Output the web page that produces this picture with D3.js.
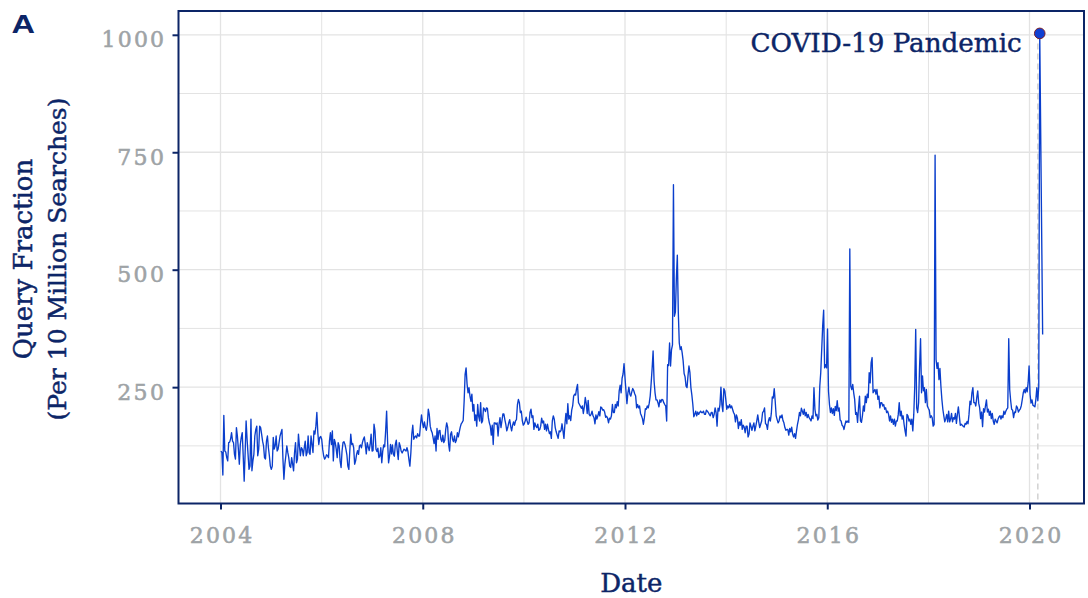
<!DOCTYPE html>
<html>
<head>
<meta charset="utf-8">
<script src="https://cdn.jsdelivr.net/npm/d3@7"></script>
<style>
  body { margin: 0; background: #ffffff; }
  svg text { font-family: "DejaVu Serif", serif; }
</style>
</head>
<body>
<svg id="chart" width="1088" height="598"></svg>
<script>
// Weekly query fraction (per 10 million searches), weeks starting 2004-01-04.
// null = week without a reported value.
const seriesStart = "2004-01-04";
const weeklyQueryFraction = [
  114,111,63,190,114,112,100,93,132,133,
  140,153,135,132,107,97,164,146,118,86,
  128,143,153,104,50,111,178,139,107,75,
  82,182,72,93,107,146,160,167,104,118,
  167,164,150,135,125,100,97,135,146,121,
  104,82,75,82,143,118,125,146,114,118,
  132,146,153,160,97,54,86,104,125,111,
  100,82,79,100,86,72,111,132,89,97,
  150,125,104,121,118,104,121,135,104,111,
  146,111,107,146,128,111,157,150,167,196,
  153,128,143,145,139,118,104,97,
  100,106,104,100,135,153,128,157,93,139,
  132,118,100,132,125,93,79,114,132,134,
  128,118,106,82,75,114,150,128,130,121,
  86,93,107,115,107,125,127,121,132,139,
  144,128,108,132,123,115,128,150,114,115,
  171,157,118,113,120,100,103,121,89,114,
  127,123,157,199,135,89,103,128,108,127,
  107,103,128,137,114,96,132,125,114,110,
  114,118,116,114,121,113,96,82,110,150,
  169,139,144,146,142,151,146,146,171,191,
  174,164,176,164,158,171,203,192,
  167,158,153,142,130,146,114,162,139,157,
  158,139,134,148,132,137,160,174,165,128,
  114,150,155,139,134,146,132,137,153,144,
  155,165,172,175,179,220,277,291,257,238,
  249,231,220,235,199,213,179,191,167,213,
  188,178,217,174,178,206,203,198,206,205,
  185,174,167,148,169,128,174,174,171,174,
  146,171,185,164,178,193,193,181,171,157,
  164,174,181,167,157,169,176,169,178,181,
  213,224,217,196,199,179,169,172,178,186,
  178,171,174,
  196,203,185,189,160,174,167,164,171,158,
  160,167,184,174,178,160,171,157,171,160,
  151,155,141,178,189,182,164,155,148,141,
  157,155,158,172,157,141,171,194,172,215,
  182,189,179,201,210,231,235,233,247,256,
  217,213,209,205,210,194,208,228,215,194,222,
  192,189,192,199,189,185,172,191,182,189,
  198,189,208,206,201,202,197,186,188,184,
  174,184,182,189,213,196,196,213,206,219,
  210,242,254,238,269,278,300,270,242,215,
  238,250,235,231,240,247,243,236,
  231,206,213,206,210,194,189,183,171,185,
  204,203,210,206,216,231,259,290,327,263,
  238,223,223,217,208,223,218,224,223,217,
  213,210,178,298,296,344,295,330,340,681,
  401,410,480,531,410,344,330,336,323,306,
  279,272,252,249,274,295,281,249,233,213,
  187,192,199,189,197,192,196,199,196,196,
  199,192,
  192,201,199,196,192,189,196,196,185,192,
  206,196,167,205,199,213,250,212,198,247,
  242,224,203,210,206,213,206,210,203,196,
  192,176,191,184,162,176,169,181,160,169,
  165,153,167,167,144,150,174,167,158,167,
  174,157,167,178,191,176,164,171,178,196,
  199,206,172,171,160,178,185,178,194,229,
  227,247,220,189,181,174,178,189,185,191,
  179,174,164,158,160,160,148,162,155,165,
  150,144,151,141,157,171,181,196,189,205,
  199,192,203,189,196,185,192,185,
  182,178,189,183,249,203,189,192,180,185,
  252,281,330,380,414,291,298,291,374,242,
  213,196,206,194,204,190,209,200,221,199,
  206,180,178,169,167,160,170,178,175,178,
  175,544,252,245,256,238,224,192,196,175,
  206,231,178,175,189,210,199,231,217,235,
  228,281,259,302,313,238,242,245,235,245,
  224,231,206,217,217,210,213,203,206,196,
  199,192,178,189,175,182,171,182,167,178,
  178,192,217,189,199,182,189,171,157,146,
  192,189,178,
  182,171,182,157,192,252,373,206,196,217,
  295,353,238,274,242,249,217,245,210,205,201,
  185,189,185,167,170,744,309,290,302,266,
  290,252,224,203,189,176,183,192,176,199,
  176,182,194,176,185,182,194,173,192,208,
  189,169,171,169,167,165,173,171,177,172,
  192,220,213,238,249,217,217,210,228,242,
  216,206,183,197,166,204,197,210,223,197,
  203,190,199,183,194,178,171,182,178,174,
  182,187,189,
  182,189,185,199,192,199,203,206,353,245,
  221,203,201,185,197,196,210,206,197,201,
  204,211,224,238,245,238,249,240,259,295,
  235,216,223,211,210,208,224,249,221,252,
  1003,null,null,362
];

const yTicks = [250, 500, 750, 1000];
const yMinorTicks = [125, 375, 625, 875];
const xTickYears = [2004, 2008, 2012, 2016, 2020];
const xMinorYears = [2006, 2010, 2014, 2018];

const panelTag = "A";
const xTitle = "Date";
const yTitleLines = ["Query Fraction", "(Per 10 Million Searches)"];
const annotationLabel = "COVID-19 Pandemic";
const annotationDate = "2020-03-01";

// ---- styling ----
const navy = "#0c2567";
const tickGrey = "#9ea3a6";
const gridGrey = "#e3e3e3";
const lineBlue = "#0a3ecc";

const panel = { left: 178.5, right: 1084, top: 11, bottom: 503.5 };

const svg = d3.select("#chart");

// ---- data ----
const parseDay = d3.utcParse("%Y-%m-%d");
const start = parseDay(seriesStart);
const series = weeklyQueryFraction
  .map((v, i) => ({ date: d3.utcDay.offset(start, 7 * i), value: v }))
  .filter(d => d.value !== null);

const yr = y => new Date(Date.UTC(y, 0, 1));

// ---- scales ----
const x = d3.scaleUtc()
  .domain([yr(2004), yr(2020)])
  .range([220.5, 1029.5]);

const [vMin, vMax] = d3.extent(series, d => d.value);
const pad = 0.05 * (vMax - vMin);
const y = d3.scaleLinear()
  .domain([vMin - pad, vMax + pad])
  .range([panel.bottom, panel.top]);

// ---- grid ----
const grid = svg.append("g");
const hLines = (vals, w) => grid.append("g").selectAll("line").data(vals).join("line")
  .attr("x1", panel.left).attr("x2", panel.right)
  .attr("y1", d => y(d)).attr("y2", d => y(d))
  .attr("stroke", gridGrey).attr("stroke-width", w);
const vLines = (vals, w) => grid.append("g").selectAll("line").data(vals).join("line")
  .attr("x1", d => x(yr(d))).attr("x2", d => x(yr(d)))
  .attr("y1", panel.top).attr("y2", panel.bottom)
  .attr("stroke", gridGrey).attr("stroke-width", w);
hLines(yMinorTicks, 1);
vLines(xMinorYears, 1);
hLines(yTicks, 1.3);
vLines(xTickYears, 1.3);

// ---- annotation marker line ----
const peak = series.reduce((a, b) => (b.value > a.value ? b : a));
const annX = x(parseDay(annotationDate));
svg.append("line")
  .attr("x1", annX).attr("x2", annX)
  .attr("y1", y(peak.value)).attr("y2", panel.bottom)
  .attr("stroke", "#d4d4d4").attr("stroke-width", 1.6)
  .attr("stroke-dasharray", "6,4");

// ---- series line ----
const line = d3.line()
  .x(d => x(d.date))
  .y(d => y(d.value));
svg.append("path")
  .datum(series)
  .attr("d", line)
  .attr("fill", "none")
  .attr("stroke", lineBlue)
  .attr("stroke-width", 1.35)
  .attr("stroke-linejoin", "round");

// ---- peak point + label ----
svg.append("circle")
  .attr("cx", x(peak.date)).attr("cy", y(peak.value))
  .attr("r", 5.3)
  .attr("fill", "#1040d2")
  .attr("stroke", "#7a1f2a").attr("stroke-width", 1);

const titleInk = sel => sel.attr("fill", navy)
  .attr("stroke", navy).attr("stroke-width", 0.45);

svg.append("text")
  .attr("x", x(peak.date) - 18).attr("y", y(peak.value) + 19)
  .attr("text-anchor", "end")
  .attr("font-size", 26.2)
  .call(titleInk)
  .text(annotationLabel);

// ---- axes ----
const yAxis = svg.append("g")
  .attr("transform", `translate(${panel.left},0)`)
  .call(d3.axisLeft(y).tickValues(yTicks).tickSize(6).tickPadding(8.5)
    .tickFormat(d3.format("d")));
const xAxis = svg.append("g")
  .attr("transform", `translate(0,${panel.bottom})`)
  .call(d3.axisBottom(x).tickValues(xTickYears.map(yr)).tickSize(6)
    .tickFormat(d3.utcFormat("%Y")));

[yAxis, xAxis].forEach(ax => {
  ax.select(".domain").remove();
  ax.selectAll(".tick line").attr("stroke", navy).attr("stroke-width", 2);
  ax.selectAll(".tick text")
    .attr("fill", tickGrey)
    .style("font-family", "'DejaVu Serif', serif")
    .attr("font-size", 22)
    .attr("stroke", tickGrey).attr("stroke-width", 0.55)
    .attr("textLength", function () { return this.textContent.length * 15.6; })
    .attr("lengthAdjust", "spacing");
});
yAxis.selectAll(".tick text").attr("dy", 12);
xAxis.selectAll(".tick text").attr("y", 0).attr("dy", 39.5);

// ---- panel border ----
svg.append("rect")
  .attr("x", panel.left).attr("y", panel.top)
  .attr("width", panel.right - panel.left)
  .attr("height", panel.bottom - panel.top)
  .attr("fill", "none")
  .attr("stroke", navy).attr("stroke-width", 2);

// ---- titles ----
svg.append("text")
  .attr("x", (panel.left + panel.right) / 2).attr("y", 591.5)
  .attr("text-anchor", "middle")
  .attr("font-size", 26)
  .call(titleInk)
  .text(xTitle);

const yTitle = svg.append("g");
yTitleLines.forEach((t, i) => {
  yTitle.append("text")
    .attr("transform", `translate(${31.5 + i * 34.5},259) rotate(-90)`)
    .attr("text-anchor", "middle")
    .attr("font-size", i === 0 ? 26 : 25)
    .call(titleInk)
    .text(t);
});

svg.append("text")
  .attr("x", 11.5).attr("y", 33)
  .style("font-family", "'Liberation Sans', Arial, sans-serif")
  .attr("font-weight", "bold")
  .attr("font-size", 25)
  .attr("textLength", 23.5)
  .attr("lengthAdjust", "spacingAndGlyphs")
  .attr("fill", navy)
  .text(panelTag);
</script>
</body>
</html>
